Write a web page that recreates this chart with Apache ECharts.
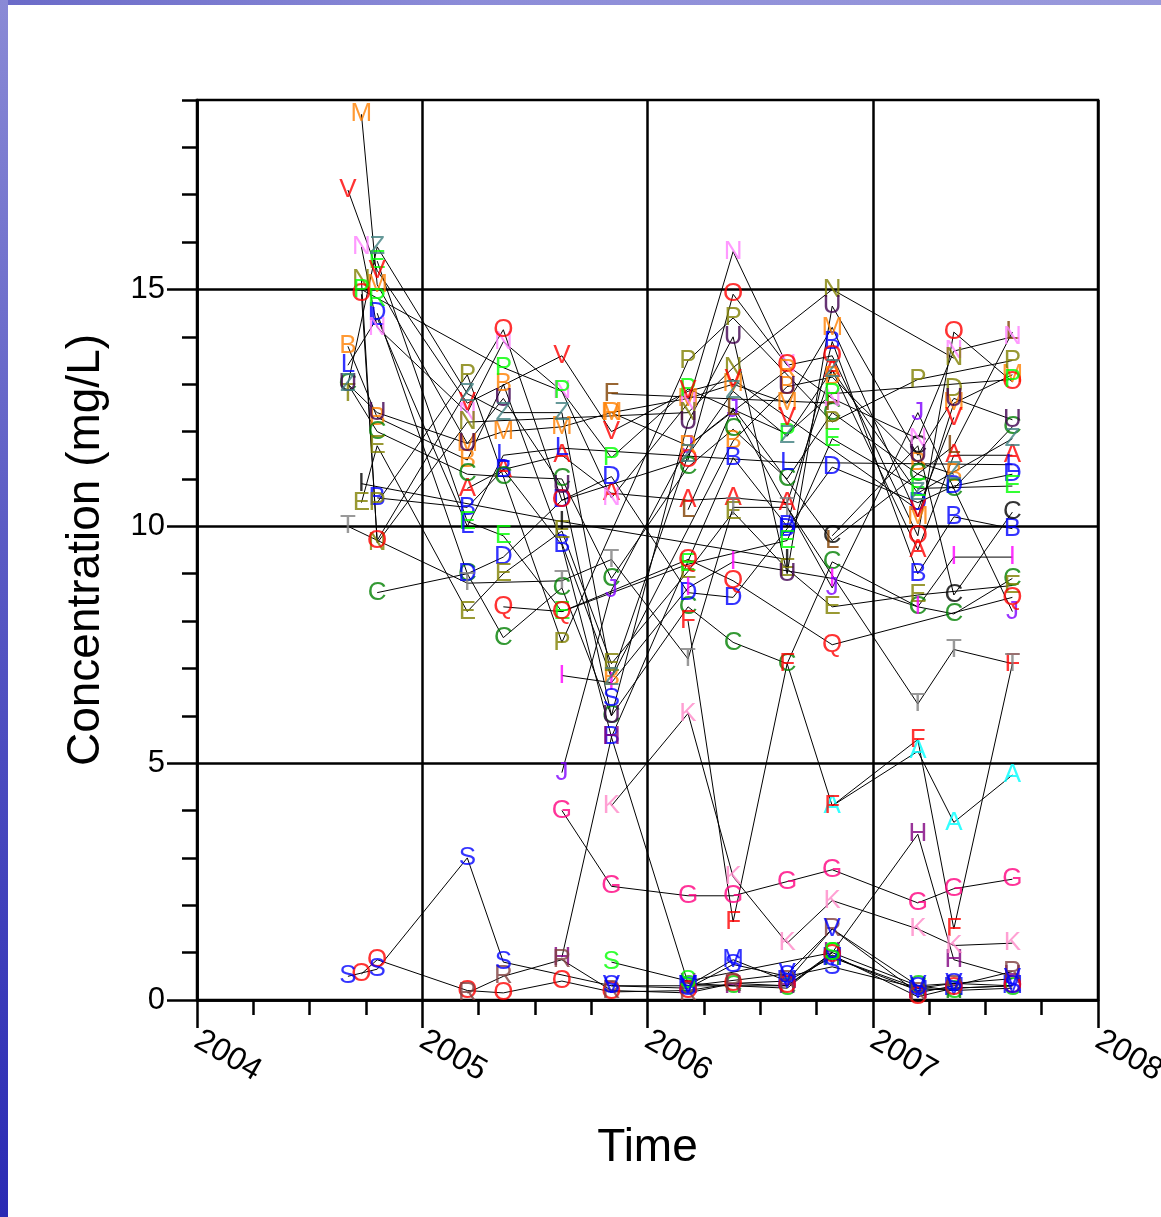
<!DOCTYPE html>
<html>
<head>
<meta charset="utf-8">
<script src="https://cdn.jsdelivr.net/npm/echarts@6/dist/echarts.min.js"></script>
<style>
html,body{margin:0;padding:0;background:#fff;overflow:hidden;}
#main{position:absolute;left:0;top:0;width:1161px;height:1217px;}
#bgTop{position:absolute;left:0;top:0;width:1161px;height:5px;background:linear-gradient(to right,#6a6ac8,#8c8cd8 40%,#9a9adc);z-index:5;}
#bgLeft{position:absolute;left:0;top:0;width:8px;height:1217px;background:linear-gradient(to bottom,#8a8ad6,#5a5ac4 45%,#2a2ab4);z-index:6;}
</style>
</head>
<body>
<div id="main"></div>
<div id="bgTop"></div>
<div id="bgLeft"></div>
<script>
// sampling dates (decimal years)
var times = [2004.67, 2004.73, 2004.80, 2005.20, 2005.36, 2005.62, 2005.84, 2006.18, 2006.38, 2006.62, 2006.82, 2007.20, 2007.36, 2007.62];
var yearTicks = [2004, 2005, 2006, 2007, 2008];
var concTicks = [0, 5, 10, 15];

// concentrations (mg/L), one array per labelled series, null = not sampled
var aRed     = [null, null, null, 10.8, 11.2, 11.5, 10.7, 10.55, 10.6, 10.5, 13.3, 9.5, 11.5, 11.5];
var aCyan    = [null, null, null, null, null, null, null, null, null, null, 4.1, 5.25, 3.75, 4.75];
var bOrange  = [13.8, null, 12.3, 11.4, 13.0, null, 6.8, null, 11.8, 12.95, 13.15, 11.35, 11.1, null];
var bBlue    = [null, null, 10.6, 10.4, 11.2, 9.6, 5.55, null, 11.45, 10.0, 13.9, 9.0, 10.2, 9.95];
var cGreen1  = [13.0, null, 12.0, 11.1, 11.05, 11.0, 8.9, 11.25, 12.05, 11.0, 12.4, 11.1, 10.8, 12.1];
var cGreen2  = [null, null, 8.6, 9.0, 7.65, 8.7, 6.0, 8.3, 7.55, 7.1, 9.25, 8.3, 8.15, 8.9];
var cBlack   = [null, null, null, null, null, null, null, null, null, null, 9.8, 11.7, 8.55, 10.3];
var cLow     = [null, null, null, null, null, null, null, 0.3, 0.3, 0.25, 1.0, 0.3, 0.2, 0.25];
var dBlue    = [null, null, 14.5, 9.0, 9.35, 10.55, 11.05, 8.6, 8.5, 9.95, 11.25, 10.5, 10.85, 11.1];
var dOlive   = [null, null, null, null, null, null, null, null, null, null, null, null, 12.9, null];
var eOlive   = [null, 10.5, 11.7, 8.2, 9.0, 9.9, 7.1, 9.05, 10.3, 9.1, 8.3, 8.55, null, 8.75];
var eGreen   = [null, null, 15.6, 10.1, 9.8, 8.2, null, 9.2, null, 9.7, 11.85, 10.8, null, 10.85];
var fRed     = [null, null, null, null, null, null, null, 8.0, 1.65, 7.1, 4.1, 5.5, 1.5, 7.1];
var fBrown   = [null, null, null, null, null, null, 12.8, null, null, null, 12.6, null, null, null];
var gPink    = [null, null, null, null, null, 4.0, 2.4, 2.2, 2.2, 2.5, 2.75, 2.05, 2.35, 2.55];
var hPurple  = [null, null, null, null, null, 0.9, 5.55, 0.35, 0.3, 0.3, 1.0, 3.5, 0.85, 0.5];
var hGreen   = [null, null, null, null, null, null, null, null, null, null, 0.9, 0.25, 0.2, null];
var iMagenta = [null, null, null, null, null, 6.85, 6.7, 8.7, 9.25, null, 8.9, 8.3, 9.35, 9.35];
var iBlack   = [null, 10.9, null, null, null, 10.1, null, null, null, 9.3, null, null, null, null];
var jViolet  = [null, null, null, null, null, 4.8, 8.65, 11.7, 12.45, null, 8.7, 12.4, null, 8.2];
var kPink    = [null, null, null, null, null, null, 4.1, 6.05, 2.6, 1.2, 2.1, 1.5, 1.15, 1.2];
var lBlue    = [13.4, null, 14.4, 10.0, 11.5, 11.65, null, null, null, 11.35, null, null, null, 11.3];
var lBrown   = [null, null, null, null, null, null, null, 10.35, 12.5, null, 9.7, null, 11.7, 14.1];
var mOrange  = [null, 18.7, 15.1, 11.75, 12.0, 12.1, 12.4, 12.7, 13.0, 12.6, 14.2, 10.2, 12.6, 13.2];
var mBlue    = [null, null, null, null, null, null, null, 0.3, 0.85, 0.4, 0.9, 0.2, 0.25, 0.3];
var nPink    = [null, 15.9, 14.2, 12.4, 13.9, 12.85, 10.6, 12.6, 15.8, 13.4, 12.7, 11.85, 13.7, 14.0];
var nOlive   = [null, 15.2, 9.65, 12.2, null, null, null, 12.4, 13.35, null, 15.0, null, 13.55, null];
var oRedHi   = [null, 14.9, 9.7, null, 14.15, 10.55, null, 11.4, 14.9, 13.4, 13.6, 9.8, 14.1, 13.05];
var oRedLo   = [null, 0.55, 0.85, 0.2, 0.15, 0.4, 0.17, 0.2, 0.35, 0.3, 0.95, 0.07, 0.25, 0.3];
var pOlive   = [null, null, 10.5, 13.2, null, 7.55, null, 13.5, 14.4, null, 12.2, 13.1, null, 13.5];
var pGreen   = [null, 15.0, null, null, 13.35, 12.85, 11.45, 12.9, null, 11.95, 12.8, null, null, 13.1];
var qRed     = [null, null, null, null, 8.3, 8.2, null, 9.3, 8.85, null, 7.5, null, null, 8.5];
var rGreen   = [null, null, 14.8, null, null, null, null, null, null, null, null, null, null, null];
var rOrange  = [null, null, null, null, null, null, 12.4, 11.7, null, 13.3, null, null, null, null];
var rMaroon  = [null, null, null, 0.15, 0.5, 0.85, 0.2, 0.15, 0.35, 0.4, 1.5, 0.15, 0.3, 0.6];
var sBlue    = [0.5, null, 0.65, 3.0, 0.8, null, 0.3, 0.25, 0.75, 0.5, 0.7, 0.25, 0.35, 0.3];
var sBlue2   = [null, null, null, null, null, null, 6.35, null, null, null, null, null, null, null];
var sGreen   = [null, null, null, null, null, null, 0.8, 0.4, null, null, 1.0, null, null, null];
var tGray    = [10.0, null, null, 8.8, null, 8.85, 9.3, 7.2, 10.4, 10.4, null, 6.25, 7.4, 7.1];
var tOlive   = [12.8, null, null, null, null, null, null, null, null, null, null, null, null, null];
var uPurple  = [13.0, null, 12.4, 11.75, 12.7, 10.85, 6.0, 12.2, 14.0, 9.0, 14.65, 11.5, 12.7, 12.25];
var uPurple2 = [null, null, null, null, null, null, null, null, null, 12.95, null, null, null, null];
var vRed     = [17.1, null, 15.4, 12.6, null, 13.6, 12.0, 12.85, 13.1, 12.3, null, 10.35, 12.3, null];
var vBlue    = [null, null, null, null, null, null, 0.3, 0.3, null, 0.55, 1.5, 0.3, 0.35, 0.45];
var zTeal    = [13.0, null, 15.9, 12.8, 12.4, 12.4, 6.8, 11.5, 12.85, 11.9, 13.3, 10.7, 11.15, 11.85];

var defs = [
    {letter: 'A', color: '#ff0000', values: aRed},
    {letter: 'A', color: '#00ffff', values: aCyan},
    {letter: 'B', color: '#ff8000', values: bOrange},
    {letter: 'B', color: '#0000ff', values: bBlue},
    {letter: 'C', color: '#008000', values: cGreen1},
    {letter: 'C', color: '#008000', values: cGreen2},
    {letter: 'C', color: '#000000', values: cBlack},
    {letter: 'C', color: '#00cc00', values: cLow},
    {letter: 'D', color: '#0000ff', values: dBlue},
    {letter: 'D', color: '#808000', values: dOlive},
    {letter: 'E', color: '#808000', values: eOlive},
    {letter: 'E', color: '#00ff00', values: eGreen},
    {letter: 'F', color: '#ff0000', values: fRed},
    {letter: 'F', color: '#804000', values: fBrown},
    {letter: 'G', color: '#ff0080', values: gPink},
    {letter: 'H', color: '#800080', values: hPurple},
    {letter: 'H', color: '#008000', values: hGreen},
    {letter: 'I', color: '#ff00ff', values: iMagenta},
    {letter: 'I', color: '#000000', values: iBlack},
    {letter: 'J', color: '#8000ff', values: jViolet},
    {letter: 'K', color: '#ff88c8', values: kPink},
    {letter: 'L', color: '#0000ff', values: lBlue},
    {letter: 'L', color: '#804000', values: lBrown},
    {letter: 'M', color: '#ff8000', values: mOrange},
    {letter: 'M', color: '#0000ff', values: mBlue},
    {letter: 'N', color: '#ff80ff', values: nPink},
    {letter: 'N', color: '#808000', values: nOlive},
    {letter: 'O', color: '#ff0000', values: oRedHi},
    {letter: 'O', color: '#ff0000', values: oRedLo},
    {letter: 'P', color: '#808000', values: pOlive},
    {letter: 'P', color: '#00ff00', values: pGreen},
    {letter: 'Q', color: '#ff0000', values: qRed},
    {letter: 'R', color: '#00ff00', values: rGreen},
    {letter: 'R', color: '#ff8000', values: rOrange},
    {letter: 'R', color: '#804040', values: rMaroon},
    {letter: 'S', color: '#0000ff', values: sBlue},
    {letter: 'S', color: '#0000ff', values: sBlue2},
    {letter: 'S', color: '#00ff00', values: sGreen},
    {letter: 'T', color: '#808080', values: tGray},
    {letter: 'T', color: '#808000', values: tOlive},
    {letter: 'U', color: '#400050', values: uPurple},
    {letter: 'U', color: '#400050', values: uPurple2},
    {letter: 'V', color: '#ff0000', values: vRed},
    {letter: 'V', color: '#0000ff', values: vBlue},
    {letter: 'Z', color: '#408080', values: zTeal}
];

var myChart = echarts.init(document.getElementById('main'));

var chartSeries = [];
defs.forEach(function(d) {
    var pts = [];
    d.values.forEach(function(v, i) {
        if (v !== null) pts.push([times[i], v]);
    });
    chartSeries.push({
        type: 'line', data: pts, symbol: 'none', silent: true, z: 2,
        lineStyle: {color: '#000', width: 1}
    });
    chartSeries.push({
        type: 'scatter', data: pts, symbolSize: 1, silent: true, z: 3,
        itemStyle: {color: 'rgba(0,0,0,0)'},
        label: {
            show: true, position: 'inside', formatter: d.letter,
            color: d.color, fontSize: 26, fontFamily: 'Liberation Sans'
        }
    });
});

var axisBlack = {color: '#000', width: 2.5};
var option = {
    animation: false,
    grid: {left: 197, top: 100, right: 63, bottom: 217, outerBoundsMode: 'none', containLabel: false,
        show: true, borderColor: '#000', borderWidth: 2.5},
    xAxis: {
        type: 'value', min: yearTicks[0], max: yearTicks[yearTicks.length - 1], interval: 1,
        axisLine: {show: true, onZero: false, lineStyle: axisBlack},
        axisTick: {show: true, length: 28, lineStyle: axisBlack},
        minorTick: {show: true, splitNumber: 4, length: 15, lineStyle: axisBlack},
        splitLine: {show: true, lineStyle: axisBlack},
        axisLabel: {
            rotate: -30, margin: 38, fontSize: 32, color: '#000', fontFamily: 'Liberation Sans',
            formatter: function(v) { return String(v); }
        },
        name: 'Time', nameLocation: 'middle', nameGap: 125,
        nameTextStyle: {fontSize: 46, color: '#000', fontFamily: 'Liberation Sans'}
    },
    yAxis: [{
        type: 'value', min: 0, max: 19, interval: 5, position: 'left',
        axisLine: {show: true, onZero: false, lineStyle: axisBlack},
        axisTick: {show: true, length: 30, customValues: concTicks, lineStyle: axisBlack},
        splitLine: {show: true, lineStyle: axisBlack},
        axisLabel: {margin: 32, fontSize: 31, color: '#000', fontFamily: 'Liberation Sans', customValues: concTicks},
        name: 'Concentration (mg/L)', nameLocation: 'middle', nameGap: 88, nameRotate: 90,
        nameTextStyle: {fontSize: 46, color: '#000', fontFamily: 'Liberation Sans'}
    }, {
        // short unit ticks
        type: 'value', min: 0, max: 19, interval: 1, position: 'left', offset: 0,
        axisLine: {show: false},
        axisTick: {show: true, length: 15, lineStyle: axisBlack},
        axisLabel: {show: false},
        splitLine: {show: false}
    }],
    series: chartSeries
};
myChart.setOption(option);
</script>
</body>
</html>
